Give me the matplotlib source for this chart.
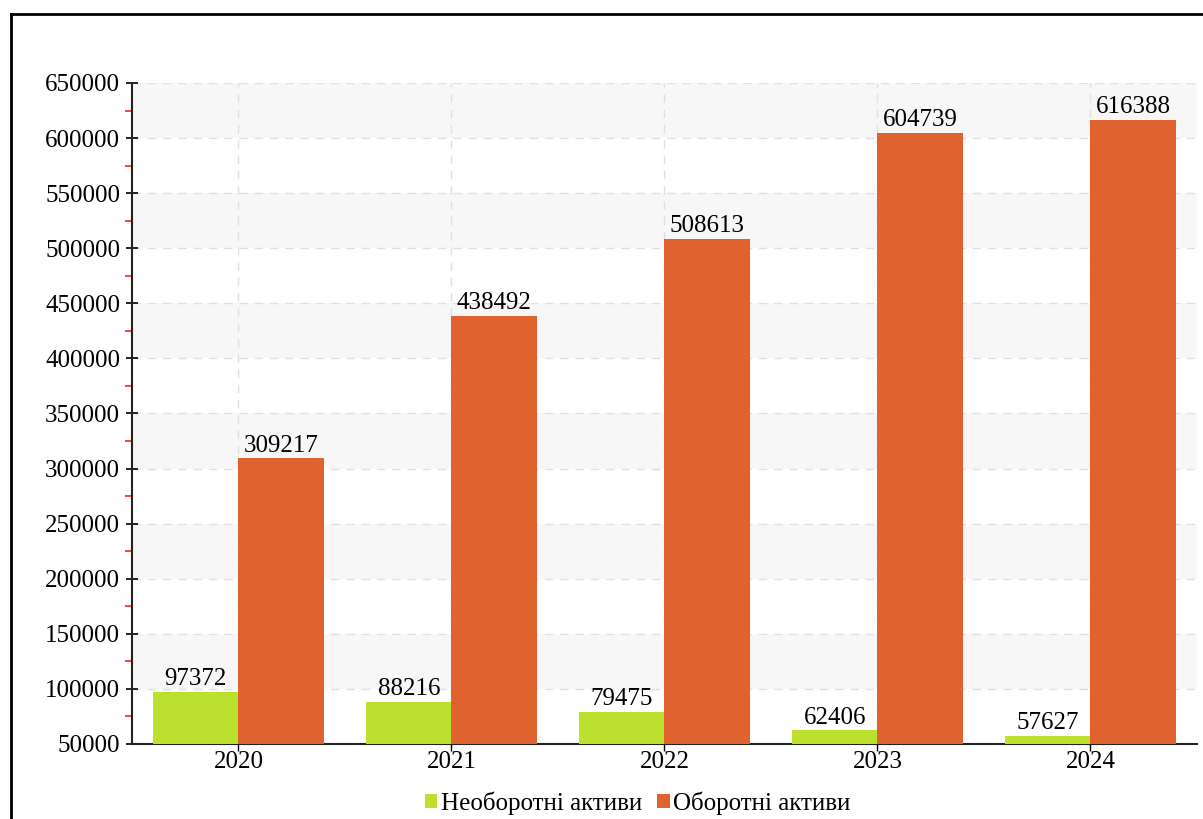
import numpy as np
import matplotlib
matplotlib.use('Agg')
import matplotlib.pyplot as plt
from matplotlib.lines import Line2D
from matplotlib.ticker import MultipleLocator

# data
years = ['2020', '2021', '2022', '2023', '2024']
non_current = [97372, 88216, 79475, 62406, 57627]
current = [309217, 438492, 508613, 604739, 616388]
series_names = ['Необоротні активи', 'Оборотні активи']

green = '#bbe02e'
orange = '#e0632f'

plt.rcParams['font.family'] = ['Liberation Serif', 'DejaVu Serif']
fs = 18

fig = plt.figure(figsize=(12.03, 8.19), dpi=100)
ax = fig.add_axes([0.1097, 0.0916, 0.8853, 0.8071])

x = np.arange(len(years))
w = 0.4
b1 = ax.bar(x - w / 2, np.array(non_current) - 50000, w, bottom=50000, color=green, zorder=3)
b2 = ax.bar(x + w / 2, np.array(current) - 50000, w, bottom=50000, color=orange, zorder=3)

# labels on top of bars
for xs, vals in ((x - w / 2, non_current), (x + w / 2, current)):
    for xi, v in zip(xs, vals):
        ax.text(xi, v + 1500, str(v), ha='center', va='bottom', fontsize=fs, zorder=4)

ax.set_xlim(-0.5, len(years) - 0.5)
ax.set_ylim(50000, 650000)

# alternating bands
for lo in range(100000, 650000, 100000):
    ax.axhspan(lo, lo + 50000, color='#f7f7f7', zorder=0, lw=0)

ax.yaxis.set_major_locator(MultipleLocator(50000))
ax.yaxis.set_minor_locator(MultipleLocator(25000))
ax.set_xticks(x)
ax.set_xticklabels(years)
ax.grid(True, which='major', ls=(0, (6, 5)), color='#e0e0e0', lw=1, zorder=1)

ax.tick_params(axis='y', which='major', direction='inout', length=9, width=1.2, labelsize=fs, pad=4)
ax.tick_params(axis='y', which='minor', direction='out', length=5, width=1.2, color='#ff2020')
ax.tick_params(axis='x', which='major', direction='out', length=5, width=1, labelsize=fs, pad=0)

for s in ('top', 'right'):
    ax.spines[s].set_visible(False)
ax.spines['left'].set_linewidth(1.5)
ax.spines['bottom'].set_linewidth(1.5)
ax.spines['left'].set_color('#222222')
ax.spines['bottom'].set_color('#222222')

leg = fig.legend([b1, b2], series_names, loc='center', bbox_to_anchor=(0.53, 0.019),
                 ncol=2, frameon=False, fontsize=fs, handlelength=0.5, handleheight=0.5,
                 handletextpad=0.15, columnspacing=0.6)

# outer border (top and left visible)
fig.add_artist(Line2D([11 / 1203, 11 / 1203], [0, 1 - 14 / 819], color='black', lw=2, transform=fig.transFigure))
fig.add_artist(Line2D([11 / 1203, 1], [1 - 14 / 819, 1 - 14 / 819], color='black', lw=2, transform=fig.transFigure))

plt.savefig('out.png', dpi=100)
